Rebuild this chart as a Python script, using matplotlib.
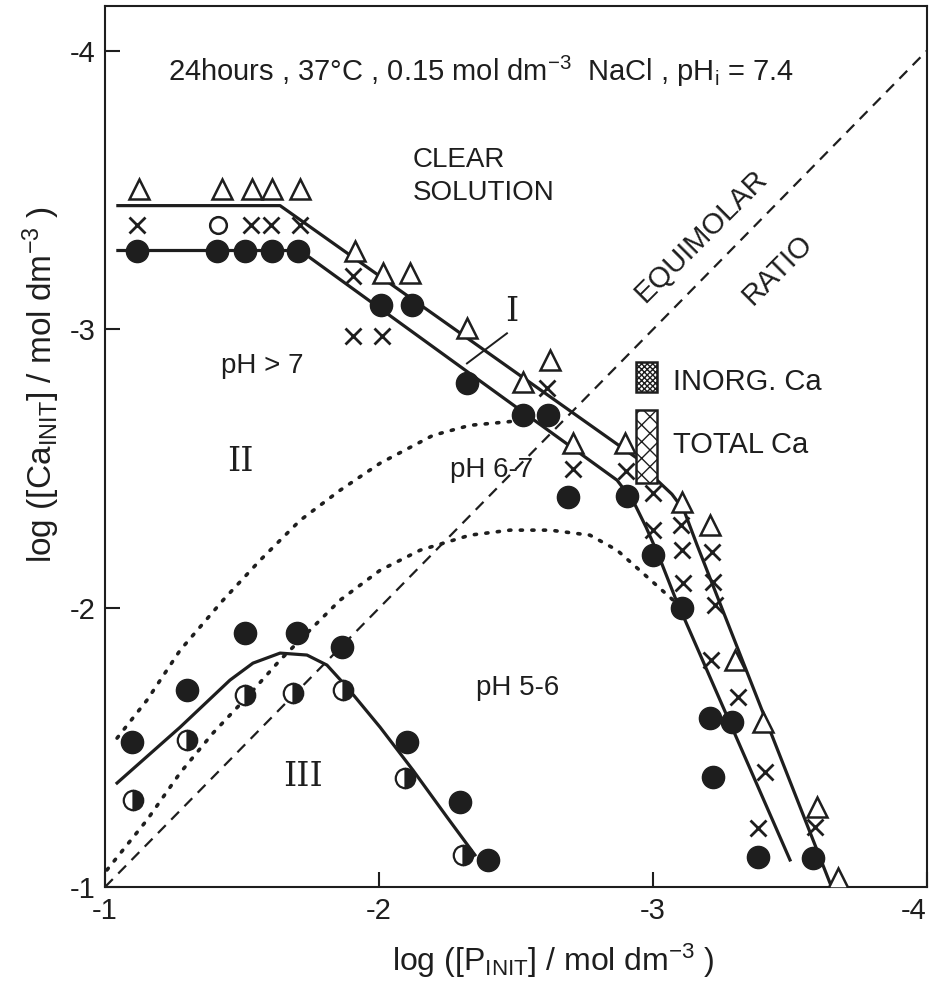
import matplotlib
matplotlib.use("Agg")
import matplotlib.pyplot as plt
from matplotlib.patches import Rectangle

# ---------------- data (log units) ----------------
tri_x = [-1.124, -1.427, -1.536, -1.609, -1.712, -1.912, -2.015, -2.113, -2.321, -2.624,
         -2.526, -2.708, -2.898, -3.106, -3.208, -3.299, -3.401, -3.599, -3.675]
tri_y = [-3.505, -3.505, -3.505, -3.505, -3.505, -3.283, -3.204, -3.204, -3.004, -2.889,
         -2.810, -2.591, -2.591, -2.380, -2.297, -1.814, -1.591, -1.287, -1.032]

x_x = [-1.117, -1.533, -1.606, -1.712, -1.905, -1.905, -2.011, -2.613, -2.708, -2.901,
       -3.000, -3.000, -3.102, -3.106, -3.215, -3.109, -3.219, -3.226, -3.212, -3.310,
       -3.409, -3.591, -3.383]
x_y = [-3.376, -3.376, -3.376, -3.376, -3.190, -2.975, -2.975, -2.789, -2.498, -2.491,
       -2.412, -2.280, -2.297, -2.208, -2.201, -2.090, -2.093, -2.011, -1.814, -1.681,
       -1.412, -1.215, -1.211]

open_x = [-1.412]
open_y = [-3.376]

fill_x = [-1.117, -1.409, -1.511, -1.609, -1.704, -2.007, -2.120, -2.321, -2.526, -2.617,
          -2.690, -2.905, -3.000, -3.106, -3.208, -3.288, -3.219, -3.383, -3.584,
          -1.099, -1.299, -1.511, -1.701, -1.865, -2.102, -2.296, -2.398]
fill_y = [-3.283, -3.283, -3.283, -3.283, -3.283, -3.086, -3.086, -2.806, -2.692, -2.692,
          -2.398, -2.401, -2.190, -2.000, -1.606, -1.591, -1.394, -1.108, -1.104,
          -1.520, -1.706, -1.910, -1.910, -1.860, -1.520, -1.305, -1.097]

half_x = [-1.102, -1.299, -1.511, -1.686, -1.869, -2.095, -2.307]
half_y = [-1.312, -1.527, -1.688, -1.695, -1.706, -1.391, -1.115]

# boundary curves
upper_x = [-1.047, -1.639, -2.953, -3.015, -3.069, -3.113, -3.161, -3.646]
upper_y = [-3.444, -3.444, -2.530, -2.459, -2.409, -2.351, -2.226, -1.014]

lower_x = [-1.047, -1.712, -2.869, -2.930, -2.975, -3.020, -3.080, -3.500]
lower_y = [-3.283, -3.283, -2.459, -2.380, -2.290, -2.190, -2.040, -1.097]

dot1_x = [-1.044, -1.153, -1.274, -1.431, -1.566, -1.712, -1.858, -2.004, -2.197, -2.332, -2.453, -2.526]
dot1_y = [-1.534, -1.670, -1.849, -2.029, -2.172, -2.315, -2.423, -2.520, -2.620, -2.656, -2.667, -2.674]

dot2_x = [-1.007, -1.153, -1.274, -1.394, -1.518, -1.639, -1.759, -1.858, -2.004, -2.150,
          -2.332, -2.478, -2.624, -2.770, -2.869, -2.964, -3.062, -3.106]
dot2_y = [-1.061, -1.240, -1.409, -1.552, -1.681, -1.814, -1.932, -2.029, -2.136, -2.208,
          -2.262, -2.280, -2.280, -2.262, -2.208, -2.125, -2.039, -2.000]

ph56_x = [-1.044, -1.274, -1.456, -1.540, -1.639, -1.737, -1.810, -1.883, -2.004, -2.124, -2.248, -2.350]
ph56_y = [-1.373, -1.573, -1.742, -1.803, -1.839, -1.832, -1.796, -1.717, -1.573, -1.419, -1.251, -1.115]

equi = [-1.0, -4.3]

xticks = [-1, -2, -3, -4]
yticks = [-1, -2, -3, -4]
tick_labels = ['-1', '-2', '-3', '-4']

# ---------------- figure ----------------
FONT = ['Liberation Sans', 'DejaVu Sans']
plt.rcParams['font.family'] = FONT
plt.rcParams['mathtext.fontset'] = 'custom'
plt.rcParams['mathtext.rm'] = 'Liberation Sans'
plt.rcParams['mathtext.it'] = 'Liberation Sans'
plt.rcParams['hatch.linewidth'] = 1.0
INK = '#1e1e1e'

fig = plt.figure(figsize=(9.32, 9.93), dpi=100)
ax = fig.add_axes([105/932, (993-887)/993, 822/932, 881/993])
ax.set_xlim(-1, -4)
ax.set_ylim(-1, -4.16)

ax.plot(equi, equi, color=INK, lw=1.6, ls=(0, (5, 3.5)), zorder=2)
ax.plot(dot1_x, dot1_y, color=INK, lw=2.6, ls=(0, (0.6, 2.6)), dash_capstyle='round', zorder=2)
ax.plot(dot2_x, dot2_y, color=INK, lw=2.6, ls=(0, (0.6, 2.6)), dash_capstyle='round', zorder=2)
ax.plot(upper_x, upper_y, color=INK, lw=2.3, zorder=3)
ax.plot(lower_x, lower_y, color=INK, lw=2.3, zorder=3)
ax.plot(ph56_x, ph56_y, color=INK, lw=2.3, zorder=3)

ax.plot(tri_x, tri_y, ls='none', marker='^', ms=15, mfc='white', mec=INK, mew=1.8, zorder=5)
ax.plot(x_x, x_y, ls='none', marker='x', ms=11, mec=INK, mew=2.0, zorder=5)
ax.plot(open_x, open_y, ls='none', marker='o', ms=12, mfc='white', mec=INK, mew=1.8, zorder=5)
ax.plot(fill_x, fill_y, ls='none', marker='o', ms=16, mfc=INK, mec=INK, zorder=5)
ax.plot(half_x, half_y, ls='none', marker='o', ms=14, fillstyle='right', mfc=INK,
        markerfacecoloralt='white', mec=INK, mew=1.6, zorder=5)

# leader for region I
ax.plot([-2.467, -2.321], [-2.986, -2.878], color=INK, lw=1.4, zorder=4)

# legend keys
ax.add_patch(Rectangle((-2.938, -2.882), -0.077, 0.108, facecolor='white', edgecolor=INK,
                       hatch='xxxxxx', lw=1.8, zorder=6))
ax.add_patch(Rectangle((-2.938, -2.710), -0.077, 0.262, facecolor='white', edgecolor=INK,
                       hatch='xx', lw=1.8, zorder=6))

tk = dict(color=INK)
ax.text(-3.073, -2.810, 'INORG. Ca', fontsize=21, ha='left', va='center', **tk)
ax.text(-3.073, -2.584, 'TOTAL Ca', fontsize=21, ha='left', va='center', **tk)

ax.text(-2.372, -3.925, '24hours , 37°C , 0.15 mol dm$^{-3}$  NaCl , pH$_{\\mathrm{i}}$ = 7.4',
        fontsize=21, ha='center', va='center', **tk)
ax.text(-2.124, -3.606, 'CLEAR', fontsize=20, ha='left', va='center', **tk)
ax.text(-2.124, -3.491, 'SOLUTION', fontsize=20, ha='left', va='center', **tk)
ax.text(-3.175, -3.335, 'EQUIMOLAR', fontsize=21, rotation=45, ha='center', va='center', **tk)
ax.text(-3.455, -3.215, 'RATIO', fontsize=21, rotation=45, ha='center', va='center', **tk)
ax.text(-1.573, -2.867, 'pH > 7', fontsize=20, ha='center', va='center', **tk)
ax.text(-2.412, -2.495, 'pH 6-7', fontsize=20, ha='center', va='center', **tk)
ax.text(-2.507, -1.713, 'pH 5-6', fontsize=20, ha='center', va='center', **tk)

serif = dict(color=INK, family='DejaVu Serif')
ax.text(-2.485, -3.061, 'I', fontsize=24, ha='center', va='center', **serif)
ax.text(-1.493, -2.523, 'II', fontsize=24, ha='center', va='center', **serif)
ax.text(-1.723, -1.394, 'III', fontsize=24, ha='center', va='center', **serif)

# axes styling
for s in ax.spines.values():
    s.set_linewidth(1.5)
    s.set_color(INK)
ax.set_xticks(xticks)
ax.set_yticks(yticks)
ax.set_xticklabels(tick_labels)
ax.set_yticklabels(tick_labels)
ax.tick_params(direction='in', length=11, width=1.5, labelsize=21, pad=7, colors=INK)
ax.get_xticklabels()[-1].set_ha('right')

ax.set_xlabel('log ([P$_{\\mathrm{INIT}}$] / mol dm$^{-3}$ )', fontsize=23, color=INK)
ax.xaxis.set_label_coords(0.545, -0.062)
ax.set_ylabel('log ([Ca$_{\\mathrm{INIT}}$] / mol dm$^{-3}$ )', fontsize=24, color=INK)
ax.yaxis.set_label_coords(-0.052, 0.57)

fig.savefig('out.png', dpi=100, facecolor='white')
